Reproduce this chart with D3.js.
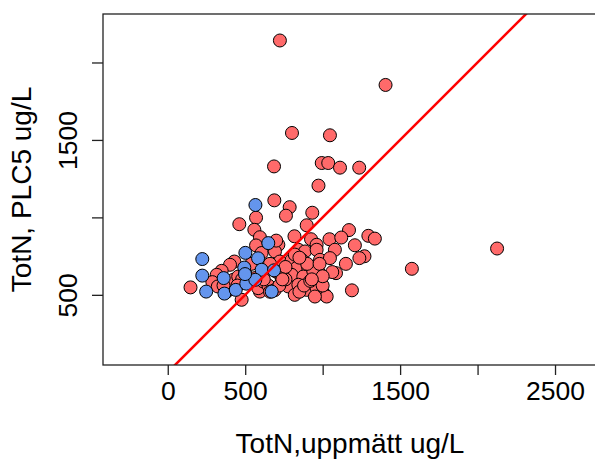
<!DOCTYPE html>
<html>
<head>
<meta charset="utf-8">
<script src="https://cdn.jsdelivr.net/npm/d3@7"></script>
<style>
  body { margin: 0; background: #fff; }
  text { font-family: "Liberation Sans", Arial, sans-serif; fill: #000; }
</style>
</head>
<body>
<div id="chart"></div>
<script>
// ---- data ----
const xTicks = [0, 500, 1000, 1500, 2000, 2500];
const xTickLabels = ["0", "500", "", "1500", "", "2500"];
const yTicks = [500, 1000, 1500, 2000];
const yTickLabels = ["500", "", "1500", ""];
const xTitle = "TotN,uppmätt ug/L";
const yTitle = "TotN, PLC5 ug/L";

// red group: [measured, PLC5]
const redX = [724,1406,802,1047,686,994,1036,1112,1236,973,688,787,763,933,570,462,559,595,897,818,925,1044,1170,1295,1337,1208,1079,961,714,570,2126,1576,1270,1237,1189,1086,147,430,402,348,316,288,323,423,455,606,477,563,595,692,724,843,886,961,800,865,983,1047,832,907,972,1062,800,875,778,950,897,961,1015,843,735,584,617,1026,950,650,690,720,760,820,850,880,920,940,700,660,760,820,900,980,1000,620,540,500,480,450,380,360,620,660,740,850,700,1120,1150,1000,930];
const redY = [2142,1855,1545,1530,1329,1351,1351,1321,1321,1205,1110,1066,1011,1030,998,956,920,872,949,878,859,859,918,881,863,820,791,823,823,819,799,668,749,737,529,640,548,715,694,655,629,582,554,597,618,770,468,608,521,780,715,791,780,791,726,726,726,737,673,673,651,647,629,618,554,597,532,543,500,565,608,543,586,489,489,560,530,560,600,500,520,560,590,650,650,700,680,760,700,700,560,640,700,640,600,560,520,560,600,520,600,740,850,870,700,620,600,640];
// blue group
const blueX = [566,223,223,248,361,366,439,501,494,507,583,606,649,686,671,565,499];
const blueY = [1080,731,624,521,608,508,532,771,676,572,736,662,834,658,521,597,634];

// ---- layout ----
const W = 595, H = 460;
const L = 103, R = 597, T = 14, B = 365;

const svg = d3.select("#chart").append("svg").attr("width", W).attr("height", H);

const x = d3.scaleLinear().domain([-418, 2771]).range([L, R]);
const y = d3.scaleLinear().domain([47, 2313]).range([B, T]);

svg.append("defs").append("clipPath").attr("id", "clip")
  .append("rect").attr("x", L).attr("y", T).attr("width", R - L).attr("height", B - T);

const g = svg.append("g").attr("clip-path", "url(#clip)");

const red = redX.map((v, i) => [v, redY[i]]);
const blue = blueX.map((v, i) => [v, blueY[i]]);

g.selectAll("circle.r").data(red).enter().append("circle")
  .attr("class", "r")
  .attr("cx", d => x(d[0])).attr("cy", d => y(d[1])).attr("r", 6.5)
  .attr("fill", "#FF6A6A").attr("stroke", "#000").attr("stroke-width", 1);

g.selectAll("circle.b").data(blue).enter().append("circle")
  .attr("class", "b")
  .attr("cx", d => x(d[0])).attr("cy", d => y(d[1])).attr("r", 6.5)
  .attr("fill", "#6495ED").attr("stroke", "#000").attr("stroke-width", 1);

// 1:1 line
const lineExt = [-500, 3000];
g.append("line")
  .attr("x1", x(lineExt[0])).attr("y1", y(lineExt[0]))
  .attr("x2", x(lineExt[1])).attr("y2", y(lineExt[1]))
  .attr("stroke", "#FF0000").attr("stroke-width", 2.5);

// box
svg.append("rect").attr("x", L).attr("y", T).attr("width", R - L).attr("height", B - T)
  .attr("fill", "none").attr("stroke", "#222").attr("stroke-width", 1.3);

// x axis
const xAxis = d3.axisBottom(x).tickValues(xTicks)
  .tickFormat((d, i) => xTickLabels[i]).tickSize(10).tickPadding(6);
const gx = svg.append("g").attr("transform", `translate(0,${B})`).call(xAxis);
gx.select(".domain").remove();
gx.selectAll(".tick line").attr("stroke", "#222").attr("stroke-width", 1.3);
gx.selectAll(".tick text").attr("font-size", 26.5).attr("font-family", "Liberation Sans, Arial, sans-serif");

// y axis
const yAxis = d3.axisLeft(y).tickValues(yTicks)
  .tickFormat((d, i) => yTickLabels[i]).tickSize(11).tickPadding(0);
const gy = svg.append("g").attr("transform", `translate(${L},0)`).call(yAxis);
gy.select(".domain").remove();
gy.selectAll(".tick line").attr("stroke", "#222").attr("stroke-width", 1.3);
gy.selectAll(".tick text")
  .attr("font-size", 26.5).attr("font-family", "Liberation Sans, Arial, sans-serif")
  .attr("x", 0).attr("dy", 0)
  .attr("text-anchor", "middle")
  .attr("transform", "translate(-26,0) rotate(-90)");

// titles
svg.append("text").attr("x", (L + R) / 2).attr("y", 453)
  .attr("text-anchor", "middle").attr("font-size", 28).text(xTitle);
svg.append("text").attr("transform", `translate(31,${(T + B) / 2}) rotate(-90)`)
  .attr("text-anchor", "middle").attr("font-size", 28).text(yTitle);
</script>
</body>
</html>
